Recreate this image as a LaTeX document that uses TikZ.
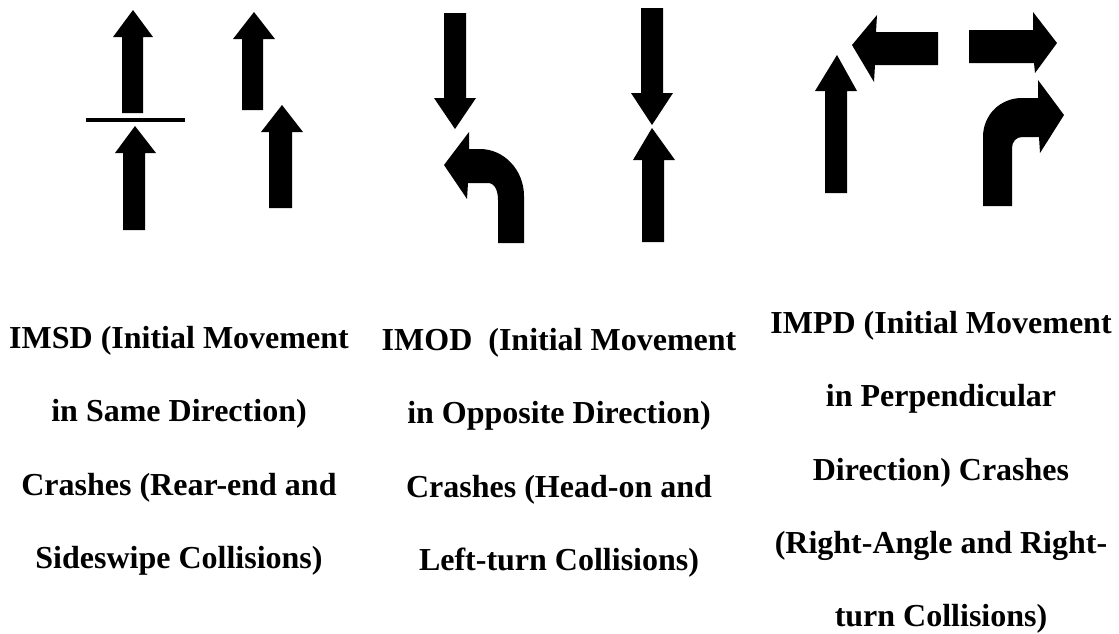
\documentclass[tikz,border=0pt]{standalone}
\usepackage{fontspec}
\setmainfont{Liberation Serif}
\begin{document}
\begin{tikzpicture}[x=1pt,y=-1pt,
  arr/.style={fill=black,draw=none},
  lbl/.style={anchor=base,inner sep=0pt,font=\bfseries\fontsize{32}{36}\selectfont}]
\useasboundingbox[fill=white] (0,0) rectangle (1119,633);
% ---- panel 1 ----
\fill[arr] (122,113) -- (122,37) -- (113,37) -- (133,10) -- (153,37) -- (143,37) -- (143,113) -- cycle;
\fill[arr] (86,118) rectangle (185,122);
\fill[arr] (123,230) -- (123,153) -- (115,153) -- (135,126) -- (156,153) -- (145,153) -- (145,230) -- cycle;
\fill[arr] (242,110) -- (242,39) -- (233,39) -- (254,12) -- (275,39) -- (263,39) -- (263,110) -- cycle;
\fill[arr] (269,208) -- (269,132) -- (261,132) -- (282,105) -- (303,132) -- (292,132) -- (292,208) -- cycle;
% ---- panel 2 ----
\fill[arr] (444,13) -- (444,98) -- (434,98) -- (455,129) -- (476,98) -- (466,98) -- (466,13) -- cycle;
\fill[arr] (498,243) -- (498,200) .. controls (498,191) and (495,183) .. (488,183) -- (468,183) -- (467,199) -- (444,165) -- (469,132) -- (469,149) -- (480,149) .. controls (504,149) and (524,170) .. (524,196) -- (524,243) -- cycle;
\fill[arr] (641,8) -- (641,93) -- (631,93) -- (652,125) -- (673,93) -- (663,93) -- (663,8) -- cycle;
\fill[arr] (642,242) -- (642,160) -- (633,160) -- (652,128) -- (675,160) -- (664,160) -- (664,242) -- cycle;
% ---- panel 3 ----
\fill[arr] (825,193) -- (825,91) -- (815,91) -- (837,55) -- (857,91) -- (847,91) -- (847,193) -- cycle;
\fill[arr] (938,32) -- (876,32) -- (877,15) -- (852,45) -- (874,82) -- (875,65) -- (938,65) -- cycle;
\fill[arr] (969,30) -- (1033,30) -- (1033,12) -- (1057,43) -- (1035,73) -- (1034,63) -- (969,63) -- cycle;
\fill[arr] (983,206) -- (983,137) .. controls (983,115) and (1000,98) .. (1022,98) -- (1038,98) -- (1038,80) -- (1064,115) -- (1040,153) -- (1039,137) -- (1022,137) .. controls (1016,137) and (1012,142) .. (1012,148) -- (1012,206) -- cycle;
% ---- labels ----
\node[lbl] (a1) at (179,348) {IMSD (Initial Movement};
\node[lbl] (a2) at (179,421.5) {in Same Direction)};
\node[lbl] (a3) at (179,495) {Crashes (Rear-end and};
\node[lbl] (a4) at (179,568) {Sideswipe Collisions)};
\node[lbl] (b1) at (559,350) {IMOD\ \ (Initial Movement};
\node[lbl] (b2) at (559,423.5) {in Opposite Direction)};
\node[lbl] (b3) at (559,497) {Crashes (Head-on and};
\node[lbl] (b4) at (559,570) {Left-turn Collisions)};
\node[lbl] (c1) at (941,333) {IMPD (Initial Movement};
\node[lbl] (c2) at (941,406.5) {in Perpendicular};
\node[lbl] (c3) at (941,480) {Direction) Crashes};
\node[lbl] (c4) at (941,553) {(Right-Angle and Right-};
\node[lbl] (c5) at (941,626) {turn Collisions)};
\end{tikzpicture}
\end{document}
